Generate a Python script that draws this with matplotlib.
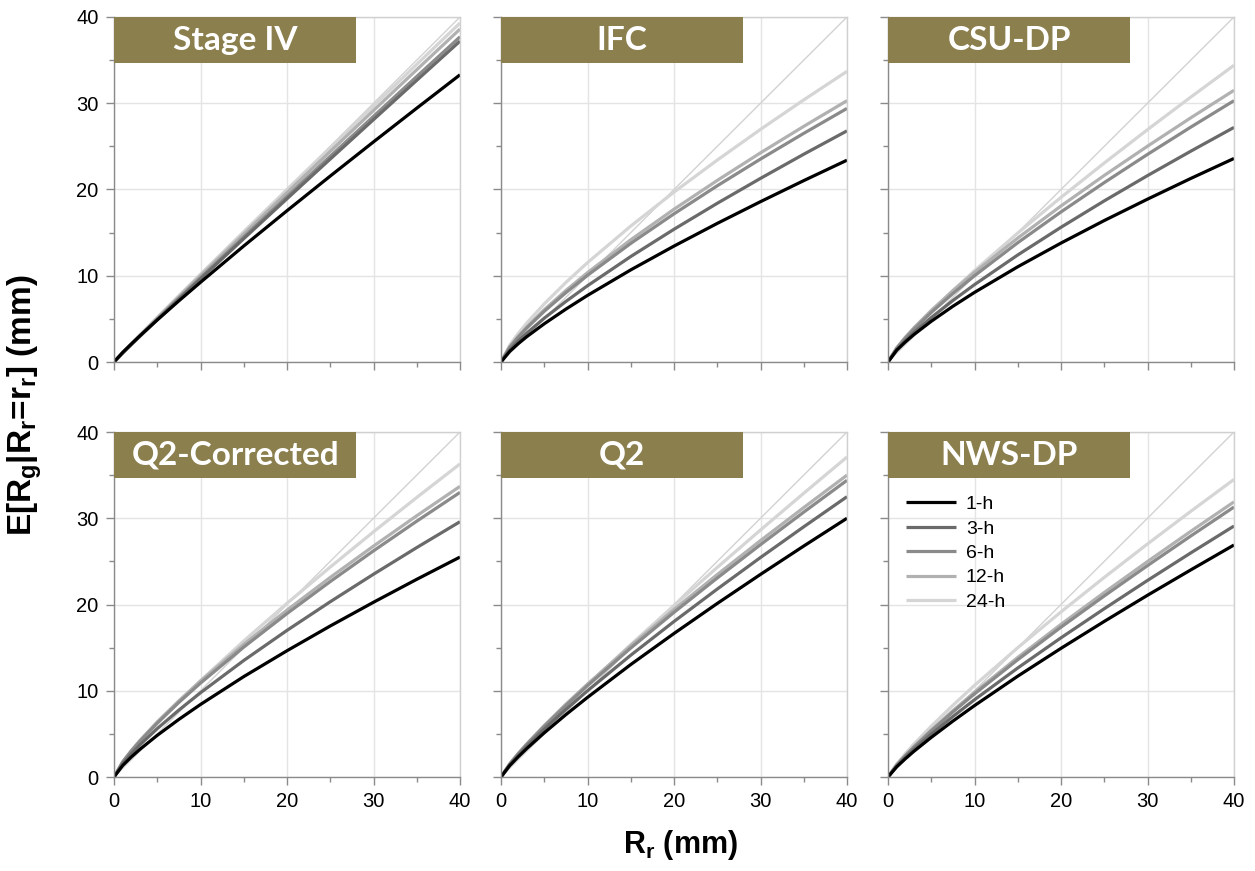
import matplotlib
matplotlib.use("Agg")
import matplotlib.pyplot as plt
from matplotlib.patches import Rectangle
from matplotlib.ticker import MultipleLocator

plt.rcParams['font.family'] = ['Liberation Sans', 'DejaVu Sans']
plt.rcParams['mathtext.fontset'] = 'custom'
plt.rcParams['mathtext.rm'] = 'Liberation Sans:bold'
plt.rcParams['mathtext.bf'] = 'Liberation Sans:bold'
plt.rcParams['mathtext.it'] = 'Liberation Sans:bold'

# ---- data ----
rr = [0, 1, 2, 3, 5, 7.5, 10, 15, 20, 25, 30, 35, 40]
durations = ['1-h', '3-h', '6-h', '12-h', '24-h']
panels = ['Stage IV', 'IFC', 'CSU-DP', 'Q2-Corrected', 'Q2', 'NWS-DP']

stage4_1h = [0, 1.11, 2.09, 3.04, 4.87, 7.09, 9.24, 13.45, 17.54, 21.56, 25.52, 29.43, 33.3]
stage4_3h = [0, 1.03, 2.01, 2.98, 4.91, 7.28, 9.63, 14.30, 18.93, 23.53, 28.10, 32.66, 37.2]
stage4_6h = [0, 1.04, 2.04, 3.02, 4.97, 7.38, 9.76, 14.49, 19.18, 23.85, 28.48, 33.10, 37.7]
stage4_12h = [0, 1.07, 2.09, 3.10, 5.09, 7.55, 10.00, 14.84, 19.64, 24.41, 29.16, 33.89, 38.6]
stage4_24h = [0, 1.08, 2.13, 3.15, 5.18, 7.69, 10.18, 15.11, 20.00, 24.86, 29.69, 34.51, 39.3]

ifc_1h = [0, 1.22, 2.13, 2.95, 4.43, 6.13, 7.72, 10.68, 13.44, 16.07, 18.59, 21.03, 23.4]
ifc_3h = [0, 1.40, 2.44, 3.37, 5.08, 7.02, 8.84, 12.23, 15.39, 18.40, 21.29, 24.09, 26.8]
ifc_6h = [0, 1.69, 2.89, 3.96, 5.88, 8.04, 10.05, 13.75, 17.18, 20.43, 23.53, 26.51, 29.4]
ifc_12h = [0, 1.75, 2.98, 4.08, 6.06, 8.29, 10.36, 14.17, 17.71, 21.05, 24.25, 27.32, 30.3]
ifc_24h = [0, 1.94, 3.32, 4.54, 6.74, 9.22, 11.52, 15.76, 19.70, 23.41, 26.97, 30.39, 33.7]

csu_1h = [0, 1.36, 2.32, 3.18, 4.72, 6.46, 8.07, 11.04, 13.79, 16.40, 18.88, 21.28, 23.6]
csu_3h = [0, 1.42, 2.48, 3.42, 5.15, 7.13, 8.97, 12.41, 15.62, 18.68, 21.61, 24.44, 27.2]
csu_6h = [0, 1.58, 2.76, 3.81, 5.74, 7.94, 10.00, 13.83, 17.40, 20.80, 24.07, 27.23, 30.3]
csu_12h = [0, 1.65, 2.87, 3.97, 5.97, 8.26, 10.39, 14.37, 18.09, 21.63, 25.02, 28.31, 31.5]
csu_24h = [0, 1.50, 2.70, 3.80, 5.87, 8.29, 10.59, 14.95, 19.09, 23.07, 26.94, 30.71, 34.4]

q2c_1h = [0, 1.33, 2.32, 3.21, 4.83, 6.68, 8.41, 11.64, 14.64, 17.51, 20.26, 22.92, 25.5]
q2c_3h = [0, 1.55, 2.69, 3.73, 5.61, 7.76, 9.77, 13.51, 17.00, 20.32, 23.51, 26.60, 29.6]
q2c_6h = [0, 1.73, 3.00, 4.15, 6.25, 8.65, 10.89, 15.06, 18.95, 22.66, 26.22, 29.66, 33.0]
q2c_12h = [0, 1.76, 3.07, 4.24, 6.39, 8.83, 11.12, 15.38, 19.35, 23.14, 26.77, 30.29, 33.7]
q2c_24h = [0, 1.58, 2.85, 4.01, 6.20, 8.75, 11.17, 15.77, 20.14, 24.34, 28.43, 32.41, 36.3]

q2_1h = [0, 1.31, 2.35, 3.32, 5.12, 7.23, 9.23, 13.04, 16.64, 20.12, 23.49, 26.78, 30.0]
q2_3h = [0, 1.41, 2.55, 3.59, 5.55, 7.83, 10.00, 14.12, 18.03, 21.79, 25.45, 29.01, 32.5]
q2_6h = [0, 1.50, 2.70, 3.80, 5.87, 8.29, 10.59, 14.95, 19.09, 23.07, 26.94, 30.71, 34.4]
q2_12h = [0, 1.52, 2.74, 3.87, 5.97, 8.44, 10.77, 15.21, 19.42, 23.47, 27.41, 31.24, 35.0]
q2_24h = [0, 1.34, 2.50, 3.61, 5.71, 8.22, 10.66, 15.35, 19.88, 24.30, 28.64, 32.90, 37.1]

nws_1h = [0, 1.17, 2.11, 2.98, 4.59, 6.48, 8.28, 11.69, 14.92, 18.04, 21.07, 24.01, 26.9]
nws_3h = [0, 1.27, 2.28, 3.22, 4.97, 7.01, 8.96, 12.64, 16.14, 19.51, 22.79, 25.98, 29.1]
nws_6h = [0, 1.36, 2.45, 3.46, 5.34, 7.54, 9.63, 13.60, 17.37, 20.99, 24.51, 27.94, 31.3]
nws_12h = [0, 1.39, 2.50, 3.53, 5.45, 7.69, 9.82, 13.86, 17.70, 21.39, 24.98, 28.48, 31.9]
nws_24h = [0, 1.50, 2.70, 3.82, 5.89, 8.31, 10.62, 14.99, 19.14, 23.14, 27.02, 30.80, 34.5]

one_to_one = [0, 40]
ticks = [0, 10, 20, 30, 40]

series = {
    'Stage IV': [stage4_1h, stage4_3h, stage4_6h, stage4_12h, stage4_24h],
    'IFC': [ifc_1h, ifc_3h, ifc_6h, ifc_12h, ifc_24h],
    'CSU-DP': [csu_1h, csu_3h, csu_6h, csu_12h, csu_24h],
    'Q2-Corrected': [q2c_1h, q2c_3h, q2c_6h, q2c_12h, q2c_24h],
    'Q2': [q2_1h, q2_3h, q2_6h, q2_12h, q2_24h],
    'NWS-DP': [nws_1h, nws_3h, nws_6h, nws_12h, nws_24h],
}

colors = ['#000000', '#6a6a6a', '#8a8a8a', '#b1b1b1', '#d5d5d5']
olive = '#8b7f4e'

W, H = 1255, 871
fig = plt.figure(figsize=(W / 100, H / 100), dpi=100)

lefts = [114, 501, 888]
tops = [17, 432]
aw, ah = 346, 345

axes = []
for r in range(2):
    for c in range(3):
        ax = fig.add_axes([lefts[c] / W, 1 - (tops[r] + ah) / H, aw / W, ah / H])
        axes.append(ax)

for i, (ax, name) in enumerate(zip(axes, panels)):
    r, c = divmod(i, 3)
    ax.set_xlim(0, 40)
    ax.set_ylim(0, 40)
    ax.xaxis.set_major_locator(MultipleLocator(10))
    ax.yaxis.set_major_locator(MultipleLocator(10))
    ax.xaxis.set_minor_locator(MultipleLocator(5))
    ax.yaxis.set_minor_locator(MultipleLocator(5))
    ax.grid(True, which='major', color='#e4e4e4', lw=1.0, zorder=0)
    ax.set_axisbelow(True)
    ax.plot(one_to_one, one_to_one, color='#d2d2d2', lw=1.0, zorder=1)
    for k, ys in enumerate(reversed(series[name])):
        idx = 4 - k
        ax.plot(rr, ys, color=colors[idx], lw=2.3, zorder=2 + k * 0.01,
                solid_capstyle='butt', label=durations[idx])
    for s in ['left', 'bottom']:
        ax.spines[s].set_color('#8a8a8a')
        ax.spines[s].set_linewidth(1.0)
    for s in ['top', 'right']:
        ax.spines[s].set_color('#d0d0d0')
        ax.spines[s].set_linewidth(1.0)
    ax.tick_params(which='major', direction='out', length=6, width=1, color='#8a8a8a',
                   labelsize=14.5, pad=5)
    ax.tick_params(which='minor', direction='out', length=3.5, width=1, color='#8a8a8a')
    if c != 0:
        ax.tick_params(axis='y', labelleft=False)
    if r == 0:
        ax.tick_params(axis='x', labelbottom=False)
    ax.set_xticks(ticks)
    ax.set_yticks(ticks)
    ax.add_patch(Rectangle((0, 0.867), 0.70, 0.133, transform=ax.transAxes,
                           facecolor=olive, edgecolor='none', zorder=5, clip_on=False))
    ax.text(0.35, 0.932, name, transform=ax.transAxes, ha='center', va='center',
            color='white', fontsize=24, fontweight='bold', family=['Lato', 'DejaVu Sans'],
            zorder=6)

# legend in NWS-DP panel
h, l = axes[5].get_legend_handles_labels()
order = [l.index(d) for d in durations]
axes[5].legend([h[j] for j in order], [l[j] for j in order], loc='upper left',
               bbox_to_anchor=(0.014, 0.855), frameon=False, fontsize=14,
               handlelength=2.55, handletextpad=0.5, labelspacing=0.35, borderaxespad=0.3)

fig.text(25 / W, 1 - 405 / H, r'E[R$_\mathbf{g}$|R$_\mathbf{r}$=r$_\mathbf{r}$] (mm)',
         rotation=90, ha='center', va='center', fontsize=24, fontweight='bold')
fig.text(680 / W, 1 - 845 / H, r'R$_\mathbf{r}$ (mm)', ha='center', va='center',
         fontsize=22, fontweight='bold')

fig.savefig('out.png', dpi=100)
